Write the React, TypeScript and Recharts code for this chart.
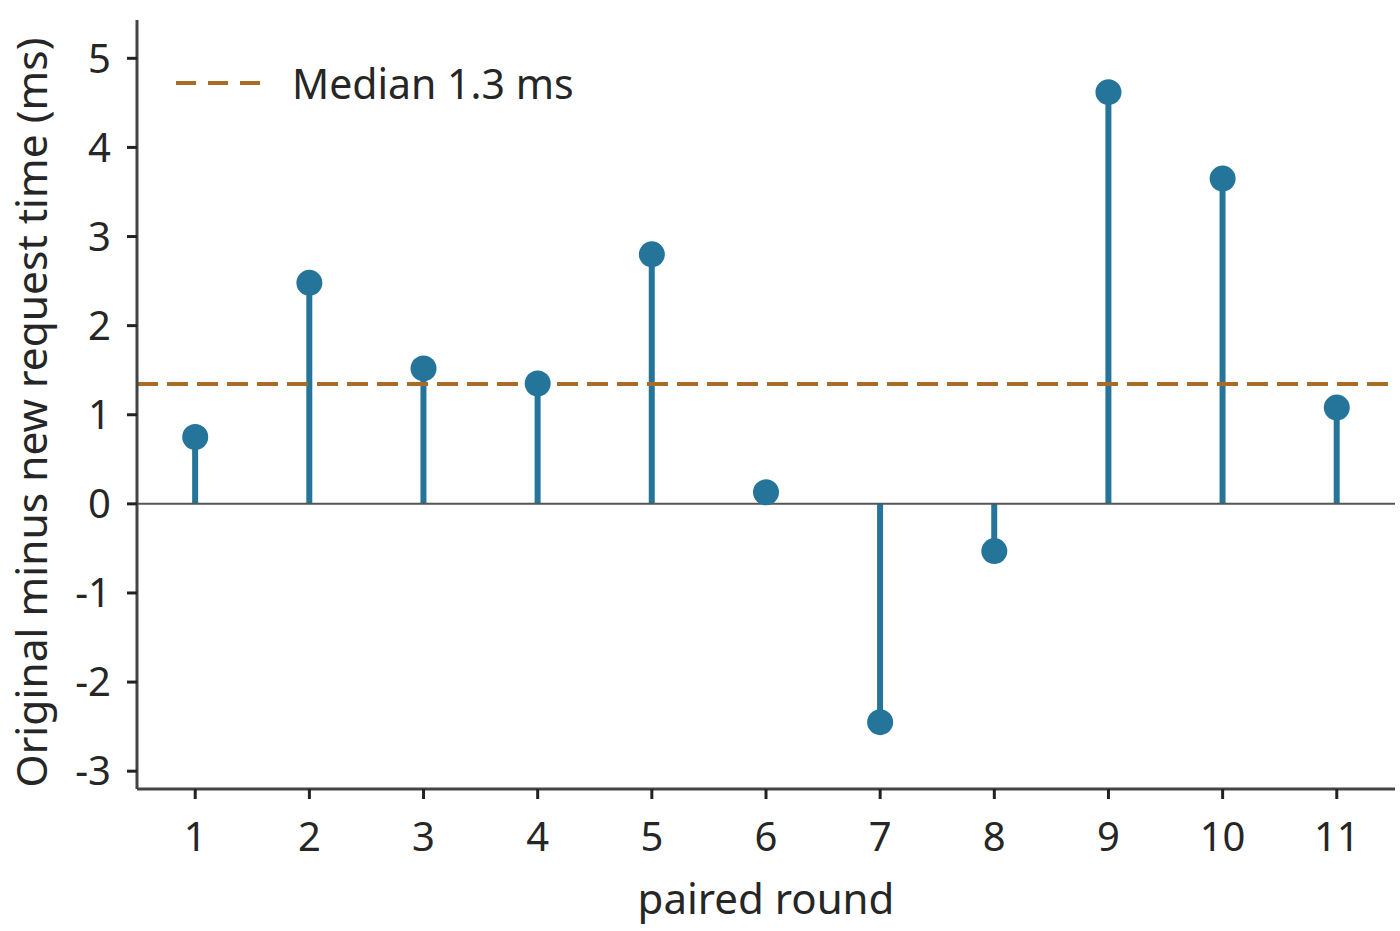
import {
  ComposedChart,
  Bar,
  Line,
  XAxis,
  YAxis,
  ReferenceLine,
} from "recharts";

const rounds = [1, 2, 3, 4, 5, 6, 7, 8, 9, 10, 11];
const diffs = [0.75, 2.48, 1.52, 1.35, 2.8, 0.13, -2.45, -0.53, 4.62, 3.65, 1.08];
const yTicks = [-3, -2, -1, 0, 1, 2, 3, 4, 5];
const medianValue = 1.345;
const medianLabel = "Median 1.3 ms";

const data = rounds.map((r, i) => ({ round: r, diff: diffs[i] }));

const FONT = "'Noto Sans', sans-serif";
const TEXT = "#262626";
const BLUE = "#25749a";
const ORANGE = "#a86c26";

// legend sits over the plot, so it is drawn outside recharts' layout
function MedianLegend() {
  return (
    <div
      style={{
        position: "absolute",
        top: 58,
        left: 172,
        display: "flex",
        alignItems: "center",
        fontFamily: FONT,
      }}
    >
      <svg width={90} height={20}>
        <line
          x1={4}
          y1={10}
          x2={88}
          y2={10}
          stroke={ORANGE}
          strokeWidth={4}
          strokeDasharray="20 12"
        />
      </svg>
      <span style={{ marginLeft: 30, fontSize: 41, color: TEXT, lineHeight: "50px" }}>
        {medianLabel}
      </span>
    </div>
  );
}

function YLabel(props: any) {
  const vb = props.viewBox || {};
  const cx = 47;
  const cy = vb.y + vb.height / 2 + 8;
  return (
    <text
      x={cx}
      y={cy}
      transform={`rotate(-90, ${cx}, ${cy})`}
      textAnchor="middle"
      fontSize={42.5}
      fontFamily={FONT}
      fill={TEXT}
    >
      Original minus new request time (ms)
    </text>
  );
}

function XLabel(props: any) {
  const vb = props.viewBox || {};
  return (
    <text
      x={vb.x + vb.width / 2}
      y={914}
      textAnchor="middle"
      fontSize={42}
      fontFamily={FONT}
      fill={TEXT}
    >
      paired round
    </text>
  );
}

export default function App() {
  return (
    <div style={{ position: "absolute", top: 0, left: 0, background: "#fff" }}>
      <ComposedChart
        width={1400}
        height={931}
        data={data}
        margin={{ top: 20, right: 5, bottom: 0, left: 0 }}
      >
        <XAxis
          dataKey="round"
          type="number"
          domain={[0.49, 11.51]}
          ticks={rounds}
          height={142}
          axisLine={{ stroke: "#444", strokeWidth: 3 }}
          tickLine={{ stroke: "#222", strokeWidth: 3 }}
          tickSize={10}
          tickMargin={24}
          tick={{ fontSize: 40, fontFamily: FONT, fill: TEXT }}
          label={<XLabel />}
          allowDataOverflow
        />
        <YAxis
          type="number"
          domain={[-3.2, 5.43]}
          ticks={yTicks}
          width={137}
          axisLine={{ stroke: "#444", strokeWidth: 3 }}
          tickLine={{ stroke: "#222", strokeWidth: 3 }}
          tickSize={10}
          tickMargin={16}
          tick={{ fontSize: 40, fontFamily: FONT, fill: TEXT }}
          label={<YLabel />}
          allowDataOverflow
        />
        <ReferenceLine y={0} stroke="#555" strokeWidth={2} />
        <ReferenceLine
          y={medianValue}
          stroke={ORANGE}
          strokeWidth={4}
          strokeDasharray="21 9"
        />
        <Bar
          dataKey="diff"
          barSize={6}
          fill={BLUE}
          isAnimationActive={false}
        />
        <Line
          dataKey="diff"
          stroke="none"
          dot={{ r: 13, fill: BLUE, stroke: "none" }}
          activeDot={false}
          isAnimationActive={false}
        />
      </ComposedChart>
      <MedianLegend />
    </div>
  );
}
